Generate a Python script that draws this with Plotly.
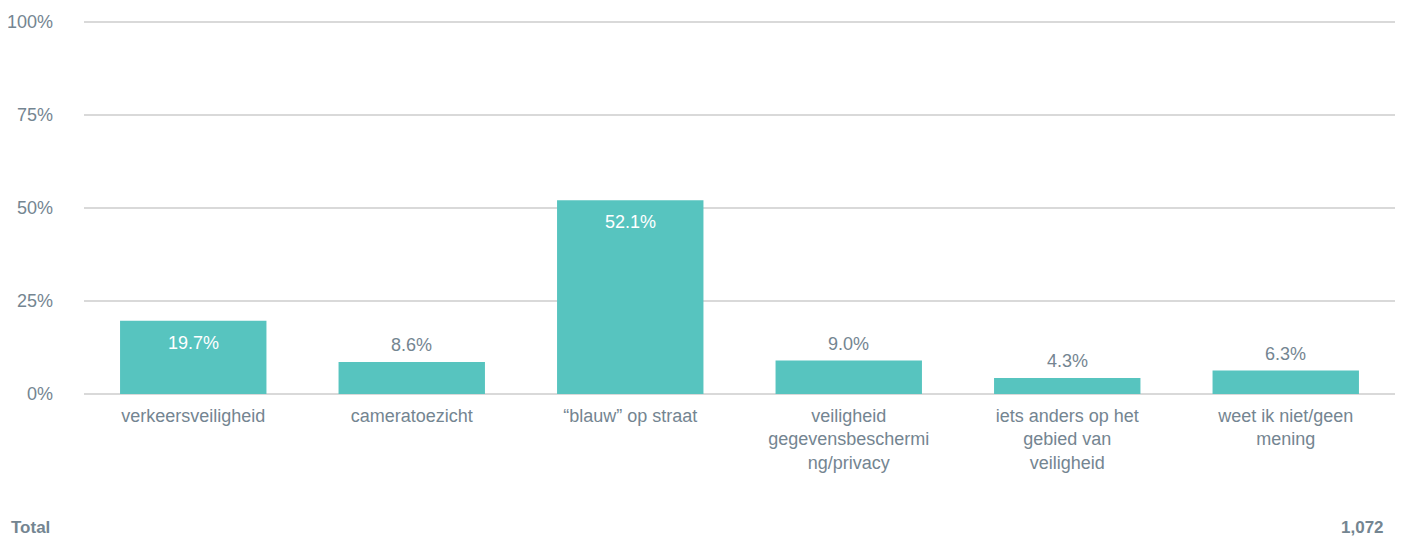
import plotly.graph_objects as go

categories = [
    "verkeersveiligheid",
    "cameratoezicht",
    "“blauw” op straat",
    "veiligheid<br>gegevensbeschermi<br>ng/privacy",
    "iets anders op het<br>gebied van<br>veiligheid",
    "weet ik niet/geen<br>mening",
]
values = [19.7, 8.6, 52.1, 9.0, 4.3, 6.3]
label_inside = [True, False, True, False, False, False]
y_ticks = [0, 25, 50, 75, 100]
y_ticktext = ["0%", "25%", "50%", "75%", "100%"]
total_label = "Total"
total_value = "1,072"

bar_color = "#57c4bf"
text_color = "#748591"
grid_color = "#d9d9d9"
font_family = "Liberation Sans, Arial, sans-serif"
FS = 18

fig = go.Figure(
    go.Bar(
        x=categories,
        y=values,
        marker=dict(color=bar_color, line=dict(width=0)),
        hoverinfo="skip",
    )
)

for c, v, inside in zip(categories, values, label_inside):
    fig.add_annotation(
        x=c, y=v, xref="x", yref="y",
        text=f"{v:.1f}%",
        showarrow=False,
        yanchor="middle",
        yshift=-22 if inside else 17,
        font=dict(size=FS, color="white" if inside else text_color, family=font_family),
    )

# page body has an 8px margin, so the figure is offset by 8px
OFF = 8
PX_PER_UNIT = 3.72
TOP_PAD = 2  # px above the 100% line so that gridline is drawn
W, H = 1404 - OFF, 538 - OFF
L, T = 84 - OFF, 22 - TOP_PAD - OFF
pw, ph = 1311, 372 + TOP_PAD
R = W - L - pw
B = H - T - ph
y_max = 100 + TOP_PAD / PX_PER_UNIT

fig.update_layout(
    width=W,
    height=H,
    margin=dict(l=L, r=R, t=T, b=B, autoexpand=False),
    paper_bgcolor="white",
    plot_bgcolor="white",
    bargap=0.33,
    showlegend=False,
    font=dict(family=font_family, size=FS, color=text_color),
)
fig.update_yaxes(
    range=[0, y_max],
    tickvals=y_ticks,
    ticktext=y_ticktext,
    showgrid=True,
    gridcolor=grid_color,
    gridwidth=2,
    zeroline=True,
    zerolinecolor=grid_color,
    zerolinewidth=2,
    showline=False,
    ticks="",
    automargin=False,
    ticklabelstandoff=30,
    tickfont=dict(size=FS, color=text_color, family=font_family),
    fixedrange=True,
)
fig.update_xaxes(
    showline=False,
    ticks="",
    automargin=False,
    tickfont=dict(size=FS, color=text_color, family=font_family),
    tickangle=0,
    ticklabelstandoff=9,
    fixedrange=True,
)

y_total = -(527 - 394) / ph
fig.add_annotation(
    text=f"<b>{total_label}</b>", xref="paper", yref="paper",
    x=(9 - 84) / pw, y=y_total, xanchor="left", yanchor="middle",
    showarrow=False, font=dict(size=17, color=text_color, family=font_family),
)
fig.add_annotation(
    text=f"<b>{total_value}</b>", xref="paper", yref="paper",
    x=(1386 - 84) / pw, y=y_total, xanchor="right", yanchor="middle",
    showarrow=False, font=dict(size=17, color=text_color, family=font_family),
)

fig.write_html("out.html")
